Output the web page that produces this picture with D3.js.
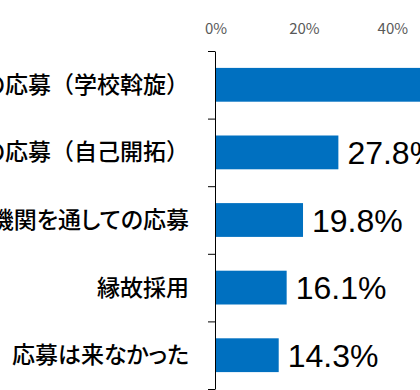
<!DOCTYPE html>
<html>
<head>
<meta charset="utf-8">
<script src="https://cdn.jsdelivr.net/npm/d3@7"></script>
<style>
  html, body { margin: 0; padding: 0; background: #fff; overflow: hidden; }
  svg { display: block; overflow: hidden; }
</style>
</head>
<body>
<script>
// categories (left labels are cut off by the crop in the original)
var categories = ["求人への応募（学校斡旋）", "求人への応募（自己開拓）", "公的機関を通しての応募", "縁故採用", "応募は来なかった"]
// percent values, first bar runs off the right edge so its value is a guess
var values = [63.5, 27.8, 19.8, 16.1, 14.3]
var tickValues = [0, 20, 40]

var data = categories.map(function(c, i) { return {name: c, value: values[i]} })

var screen = {width: 420, height: 390}
var plot = {left: 215.5, top: 51, bottom: 389}

var svg = d3.select("body")
  .append("svg")
  .attr("width", screen.width)
  .attr("height", screen.height)

var xScale = d3.scaleLinear()
  .domain([0, 100])
  .range([plot.left, plot.left + 442])

var yScale = d3.scaleBand()
  .domain(categories)
  .range([plot.top, plot.bottom])
  .paddingInner(0.5)
  .paddingOuter(0.25)

// boundaries between categories for the excel-style tick marks
var yLines = d3.scaleLinear()
  .domain([0, categories.length])
  .range([plot.top, plot.bottom])

// top percent labels, no line or ticks
var xAxis = d3.axisTop(xScale)
  .tickValues(tickValues)
  .tickFormat(function(d) { return d + "%" })
  .tickSize(0)
  .tickPadding(0)

var gx = svg.append("g")
  .attr("transform", "translate(0,34)")
  .call(xAxis)
gx.select(".domain").remove()
gx.selectAll("text")
  .attr("fill", "#595959")
  .style("font-family", "'Noto Sans CJK JP', 'Noto Sans', sans-serif")
  .style("font-size", "15px")

// bars
svg.append("g")
  .selectAll("rect")
  .data(data)
  .enter()
  .append("rect")
  .attr("x", xScale(0) + 0.5)
  .attr("y", function(d) { return yScale(d.name) })
  .attr("width", function(d) { return xScale(d.value) - xScale(0) - 0.5 })
  .attr("height", yScale.bandwidth())
  .attr("fill", "#0070C0")

// left axis with ticks between categories
var yAxis = d3.axisLeft(yLines)
  .tickValues(d3.range(categories.length + 1))
  .tickFormat("")
  .tickSize(7)
  .tickSizeOuter(0)

var gy = svg.append("g")
  .attr("transform", "translate(" + (plot.left - 0.5) + ",0)")
  .call(yAxis)
gy.select(".domain").attr("stroke", "#000")
gy.selectAll(".tick line").attr("stroke", "#000")

// category labels - kana proportional, brackets stay full width
var labels = svg.append("g")
  .selectAll("text")
  .data(data)
  .enter()
  .append("text")
  .attr("x", 189)
  .attr("y", function(d) { return yScale(d.name) + yScale.bandwidth() / 2 })
  .attr("dy", "0.35em")
  .attr("text-anchor", "end")
  .style("font-family", "'Noto Sans CJK JP', sans-serif")
  .style("font-size", "23px")
  .style("font-weight", 500)
  .attr("fill", "#000")

labels.selectAll("tspan")
  .data(function(d) { return d.name.split(/([（）])/).filter(function(s) { return s.length }) })
  .enter()
  .append("tspan")
  .style("font-feature-settings", function(s) { return /[（）]/.test(s) ? "normal" : "'palt'" })
  .text(function(s) { return s })

// value labels
svg.append("g")
  .selectAll("text")
  .data(data)
  .enter()
  .append("text")
  .attr("x", function(d) { return xScale(d.value) + 9 })
  .attr("y", function(d) { return yScale(d.name) + yScale.bandwidth() / 2 })
  .attr("dy", "0.36em")
  .style("font-family", "'Liberation Sans', Arial, sans-serif")
  .style("font-size", "32px")
  .attr("fill", "#000")
  .text(function(d) { return d3.format(".1f")(d.value) + "%" })
</script>
</body>
</html>
